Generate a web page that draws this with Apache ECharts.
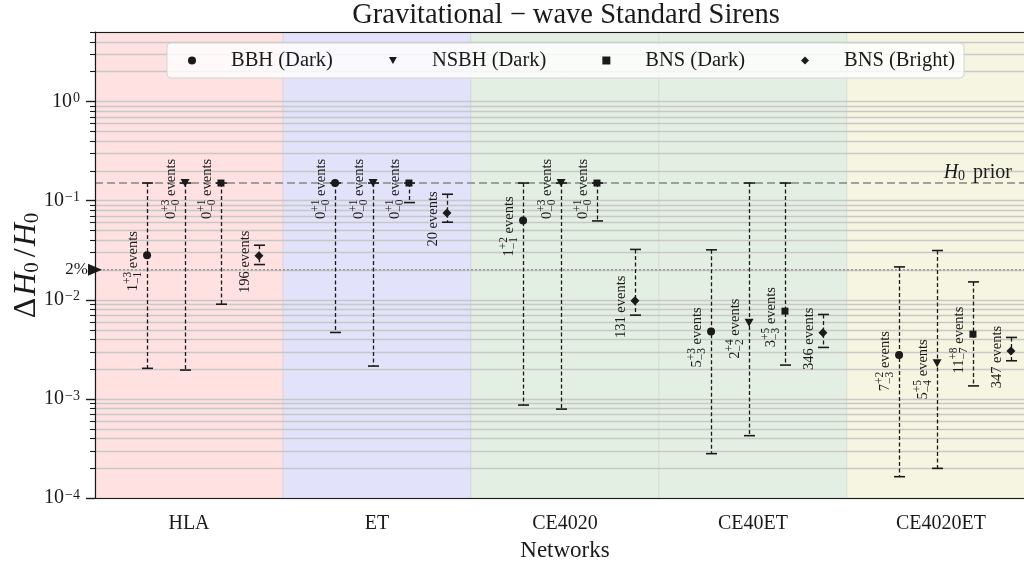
<!DOCTYPE html>
<html><head><meta charset="utf-8">
<script src="https://cdn.jsdelivr.net/npm/echarts@6/dist/echarts.min.js"></script>
<style>html,body{margin:0;padding:0;background:#fff}#c{width:1024px;height:566px}</style>
</head><body><div id="c"></div>
<script>
// ---------------- data ----------------
const networks = ['HLA', 'ET', 'CE4020', 'CE40ET', 'CE4020ET'];
const seriesNames = ['BBH (Dark)', 'NSBH (Dark)', 'BNS (Dark)', 'BNS (Bright)'];
// [value, lower end, upper end] of ΔH0/H0 per network
const bbhDark   = [[0.0281, 0.00203, 0.15], [0.15, 0.00467, 0.15], [0.0628, 0.000865, 0.15], [0.00478, 0.000280, 0.0318], [0.00276, 0.000164, 0.0214]];
const nsbhDark  = [[0.15, 0.00195, 0.15], [0.15, 0.00214, 0.15], [0.15, 0.000788, 0.15], [0.00585, 0.000425, 0.15], [0.00228, 0.000199, 0.0313]];
const bnsDark   = [[0.15, 0.0090, 0.15], [0.15, 0.0953, 0.15], [0.15, 0.0622, 0.15], [0.00766, 0.00219, 0.15], [0.00449, 0.00135, 0.0151]];
const bnsBright = [[0.0277, 0.0226, 0.0354], [0.0749, 0.0604, 0.1156], [0.00973, 0.00698, 0.0321], [0.00463, 0.00330, 0.00709], [0.00303, 0.00242, 0.00416]];
// event counts: [median, +err, -err]
const bbhEvents      = [[1, 3, 1], [0, 1, 0], [1, 2, 1], [5, 3, 3], [7, 2, 3]];
const nsbhEvents     = [[0, 3, 0], [0, 1, 0], [0, 3, 0], [2, 4, 2], [5, 5, 4]];
const bnsDarkEvents  = [[0, 1, 0], [0, 1, 0], [0, 1, 0], [3, 5, 3], [11, 8, 7]];
const bnsBrightEvents = [196, 20, 131, 346, 347];
const h0Prior = 0.15;
const twoPercent = 0.02;
const yMin = 1e-4, yMax = 5;
const yTickValues = [1e-4, 1e-3, 1e-2, 1e-1, 1];
const yTickLabels = ['10{s|−4}', '10{s|−3}', '10{s|−2}', '10{s|−1}', '10{s|0}'];

// ---------------- styles ----------------
const FONT = '"Liberation Serif", "Times New Roman", serif';
const INK = '#1a1a1a';
const typeOffsets = [-0.223, -0.021, 0.170, 0.372];
const typeSymbols = ['circle', 'path://M0,0L10,0L5,9Z', 'rect', 'path://M5,0L10,5L5,10L0,5Z'];
const typeSizes = [8, [9, 8], 7, 9];
const bandColors = ['#ffe1e1', '#e2e2fb', '#e3efe2', '#e4efe3', '#f6f5e1'];

const allValues = [bbhDark, nsbhDark, bnsDark, bnsBright];
const allEvents = [bbhEvents, nsbhEvents, bnsDarkEvents, bnsBrightEvents];

const mctx = document.createElement('canvas').getContext('2d');
function tw(s, size) { mctx.font = size + 'px ' + FONT; return mctx.measureText(s).width; }

// minor/major grid values (axis ticks)
const gridVals = [];
for (let k = -4; k <= 0; k++) for (let m = 1; m <= 9; m++) { const v = m * Math.pow(10, k); if (v <= yMax * 1.0001) gridVals.push([0, v, m === 1 ? 1 : 0]); }

const errData = [];
allValues.forEach((arr, t) => arr.forEach((d, i) => errData.push([i + typeOffsets[t], d[0], d[1], d[2], t, i])));

function eventLabel(t, i, bx, my) {
  const fs = 14.5, fs2 = 11.5;
  const ev = allEvents[t][i];
  const children = [];
  if (typeof ev === 'number') {
    const s = ev + ' events';
    children.push({ type: 'text', x: 0, y: -0.3 * fs, style: { text: s, font: fs + 'px ' + FONT, fill: INK, align: 'center', verticalAlign: 'middle' } });
  } else {
    const main = String(ev[0]), sup = '+' + ev[1], sub = '−' + ev[2], rest = ' events';
    const w1 = tw(main, fs), w2 = Math.max(tw(sup, fs2), tw(sub, fs2)), w3 = tw(rest, fs);
    const W = w1 + w2 + w3;
    let x = -W / 2;
    children.push({ type: 'text', x: x, y: -0.3 * fs, style: { text: main, font: fs + 'px ' + FONT, fill: INK, align: 'left', verticalAlign: 'middle' } });
    x += w1;
    children.push({ type: 'text', x: x, y: -0.42 * fs - 0.3 * fs2, style: { text: sup, font: fs2 + 'px ' + FONT, fill: INK, align: 'left', verticalAlign: 'middle' } });
    children.push({ type: 'text', x: x, y: 0.26 * fs - 0.3 * fs2, style: { text: sub, font: fs2 + 'px ' + FONT, fill: INK, align: 'left', verticalAlign: 'middle' } });
    x += w2;
    children.push({ type: 'text', x: x, y: -0.3 * fs, style: { text: rest, font: fs + 'px ' + FONT, fill: INK, align: 'left', verticalAlign: 'middle' } });
  }
  return { type: 'group', x: bx - 10, y: my + 6, rotation: Math.PI / 2, children: children };
}

const chart = echarts.init(document.getElementById('c'));
const option = {
  animation: false,
  backgroundColor: '#ffffff',
  grid: { left: 95, right: -11, top: 32, bottom: 68, containLabel: false, outerBoundsMode: 'none' },
  graphic: [{
    type: 'text', x: 566, y: 16, z: 20,
    style: { text: 'Gravitational − wave Standard Sirens', font: '28.5px ' + FONT, fill: INK, align: 'center', verticalAlign: 'middle' }
  }],
  legend: {
    left: 167, top: 43, orient: 'horizontal', z: 20,
    data: seriesNames.map((n, t) => ({ name: n, icon: typeSymbols[t] })),
    itemWidth: 8, itemHeight: 8, itemGap: 56,
    padding: [7, 9, 7, 21],
    backgroundColor: 'rgba(255,255,255,0.8)', borderColor: '#d4d4d4', borderWidth: 1, borderRadius: 4,
    textStyle: { fontFamily: FONT, fontSize: 20.5, color: INK, padding: [0, 0, 0, 30], lineHeight: 20 },
    selectedMode: false
  },
  xAxis: [{
    type: 'category', data: networks, boundaryGap: true, z: 10,
    axisLine: { onZero: false, lineStyle: { color: INK, width: 1.2 } },
    axisTick: { alignWithLabel: true, length: 9, lineStyle: { color: INK, width: 1.5 } },
    axisLabel: { fontFamily: FONT, fontSize: 20, color: INK, margin: 16 },
    splitLine: { show: false },
    name: 'Networks', nameLocation: 'middle', nameGap: 41,
    nameTextStyle: { fontFamily: FONT, fontSize: 23, color: INK }
  }, {
    type: 'value', min: -0.5, max: 4.5, show: false
  }],
  yAxis: {
    type: 'log', logBase: 10, min: yMin, max: yMax, z: 10,
    axisLine: { show: true, onZero: false, lineStyle: { color: INK, width: 1.2 } },
    axisTick: { show: false },
    splitLine: { show: false },
    axisLabel: {
      margin: 15, color: INK,
      formatter: function (v) {
        for (let j = 0; j < yTickValues.length; j++) if (Math.abs(Math.log10(v) - Math.log10(yTickValues[j])) < 1e-6) return yTickLabels[j];
        return '';
      },
      rich: {
        s: { fontFamily: FONT, fontSize: 14, verticalAlign: 'top', lineHeight: 14, padding: [0, 0, 8, 1] }
      },
      fontFamily: FONT, fontSize: 20
    },
    name: '{d|Δ}{i|H}{s|0}{d|/}{i|H}{s|0}', nameLocation: 'middle', nameRotate: 90, nameGap: 52,
    nameMoveOverlap: false,
    nameTextStyle: {
      rich: {
        d: { fontFamily: FONT, fontSize: 32, color: INK, lineHeight: 32, padding: [0, 2] },
        i: { fontFamily: FONT, fontSize: 32, fontStyle: 'italic', color: INK, lineHeight: 32 },
        s: { fontFamily: FONT, fontSize: 21, color: INK, verticalAlign: 'bottom', lineHeight: 20, padding: [0, 3, 0, 0] }
      }
    }
  },
  series: [
    { // background bands
      type: 'custom', z: 1, xAxisIndex: 1, silent: true,
      data: networks.map((n, i) => [i, 1]),
      encode: { x: 0, y: 1 },
      renderItem: function (params, api) {
        const i = api.value(0);
        const p0 = api.coord([i - 0.5, yMax]), p1 = api.coord([i + 0.5, yMin]);
        return { type: 'rect', shape: { x: p0[0], y: p0[1], width: p1[0] - p0[0], height: p1[1] - p0[1] },
          style: { fill: bandColors[i], stroke: 'rgba(0,0,0,0.05)', lineWidth: 1 } };
      }
    },
    { // horizontal grid lines + y ticks
      type: 'custom', z: 2, xAxisIndex: 1, silent: true, clip: false,
      data: gridVals, encode: { x: 0, y: 1 },
      renderItem: function (params, api) {
        const cs = params.coordSys;
        const y = Math.round(api.coord([0, api.value(1)])[1]) + 0.5;
        const major = api.value(2) === 1;
        const len = major ? 9 : 5;
        return { type: 'group', children: [
          { type: 'line', shape: { x1: cs.x, y1: y, x2: cs.x + cs.width, y2: y }, style: { stroke: '#c8c8c8', lineWidth: 1.3 } },
          { type: 'line', shape: { x1: cs.x - len, y1: y, x2: cs.x, y2: y }, style: { stroke: INK, lineWidth: major ? 1.4 : 1.1 } }
        ] };
      }
    },
    { // reference lines: H0 prior, 2%, top frame
      type: 'custom', z: 3, xAxisIndex: 1, silent: true, clip: false,
      data: [[0, h0Prior], [0, twoPercent]], encode: { x: 0, y: 1 },
      renderItem: function (params, api) {
        const cs = params.coordSys;
        const y = api.coord([0, api.value(1)])[1];
        if (params.dataIndex === 0) {
          return { type: 'group', children: [
            { type: 'line', shape: { x1: cs.x, y1: y, x2: cs.x + cs.width, y2: y }, style: { stroke: 'rgba(140,140,140,0.8)', lineWidth: 2, lineDash: [8, 4] } },
            { type: 'text', x: 1012, y: y - 10, style: { text: '{i|H}{s|0} prior', align: 'right', verticalAlign: 'middle',
              font: '20px ' + FONT, fill: INK,
              rich: { i: { fontFamily: FONT, fontSize: 20, fontStyle: 'italic', lineHeight: 20 }, s: { fontFamily: FONT, fontSize: 14, verticalAlign: 'bottom', lineHeight: 14, padding: [0, 3, 0, 0] } } } },
            { type: 'line', shape: { x1: cs.x, y1: cs.y + 0.5, x2: cs.x + cs.width, y2: cs.y + 0.5 }, style: { stroke: INK, lineWidth: 1.2 } }
          ] };
        }
        return { type: 'group', children: [
          { type: 'line', shape: { x1: cs.x, y1: y, x2: cs.x + cs.width, y2: y }, style: { stroke: 'rgba(110,110,110,0.9)', lineWidth: 1, lineDash: [2, 2] } },
          { type: 'polygon', shape: { points: [[cs.x - 7, y - 6], [cs.x + 7, y], [cs.x - 7, y + 6]] }, style: { fill: INK } },
          { type: 'text', x: cs.x - 7, y: y, style: { text: '2%', font: '17px ' + FONT, fill: INK, align: 'right', verticalAlign: 'middle' } }
        ] };
      }
    },
    { // error bars + event labels
      type: 'custom', z: 4, xAxisIndex: 1, silent: true, clip: false,
      data: errData, encode: { x: 0, y: 1 },
      renderItem: function (params, api) {
        const x = api.value(0);
        const pv = api.coord([x, api.value(1)]);
        const pl = api.coord([x, api.value(2)]);
        const ph = api.coord([x, api.value(3)]);
        const bx = Math.round(pv[0]) + 0.5;
        return { type: 'group', children: [
          { type: 'line', shape: { x1: bx, y1: ph[1], x2: bx, y2: pl[1] }, style: { stroke: INK, lineWidth: 1.3, lineDash: [4, 2.5] } },
          { type: 'line', shape: { x1: bx - 5.5, y1: ph[1], x2: bx + 5.5, y2: ph[1] }, style: { stroke: INK, lineWidth: 1.6 } },
          { type: 'line', shape: { x1: bx - 5.5, y1: pl[1], x2: bx + 5.5, y2: pl[1] }, style: { stroke: INK, lineWidth: 1.6 } },
          eventLabel(api.value(4), api.value(5), bx, pv[1])
        ] };
      }
    }
  ].concat(allValues.map((arr, t) => ({
    type: 'scatter', name: seriesNames[t], xAxisIndex: 1, z: 5,
    symbol: typeSymbols[t], symbolSize: typeSizes[t],
    itemStyle: { color: INK, opacity: 1 },
    data: arr.map((d, i) => [i + typeOffsets[t], d[0]])
  })))
};
chart.setOption(option);
</script>
</body></html>
